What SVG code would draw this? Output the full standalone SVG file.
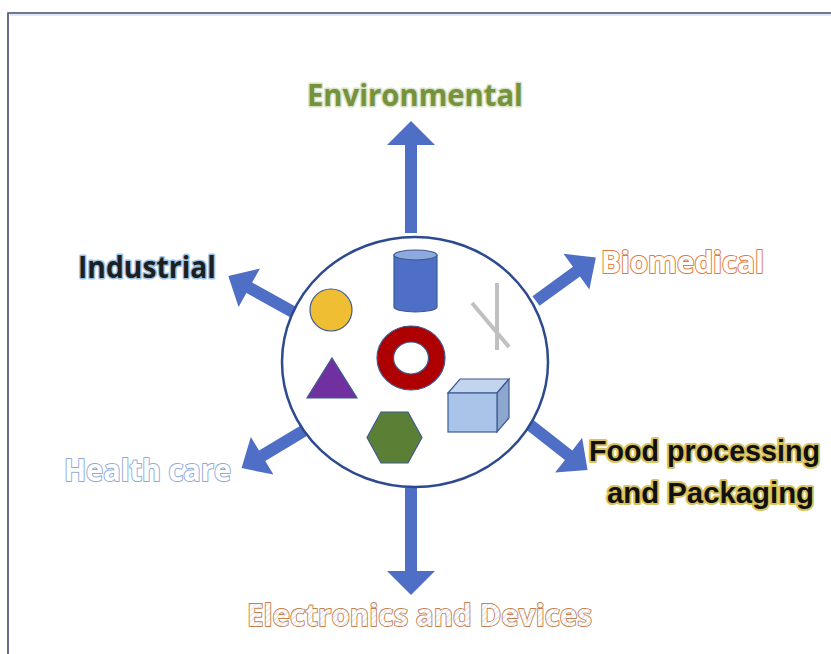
<svg xmlns="http://www.w3.org/2000/svg" width="831" height="654" viewBox="0 0 831 654">
<defs>
<style>
.arrow{fill:#4F6FC6;}
.lbl{font-family:"Open Sans","Liberation Sans",sans-serif;font-weight:bold;font-size:30px;paint-order:stroke;stroke-linejoin:round;}
.food{font-family:"Liberation Sans","Open Sans",sans-serif;font-size:29px;}
.obj{stroke:#3B5A92;stroke-width:1.2;}
</style>
<pattern id="hatch" width="4" height="4" patternUnits="userSpaceOnUse" patternTransform="rotate(45)">
<rect width="4" height="4" fill="#ffffff"/>
<line x1="0" y1="0" x2="0" y2="4" stroke="#c8cbd6" stroke-width="1.2"/>
</pattern>
</defs>
<rect x="0" y="0" width="831" height="654" fill="#ffffff"/>
<path d="M8,654 L8,13 L831,13" fill="none" stroke="#3F4D74" stroke-width="1.6"/>
<line x1="10" y1="15" x2="831" y2="15" stroke="#C7D0E6" stroke-width="1.2"/>

<g id="connectors">
<polygon class="arrow" transform="translate(411,233) rotate(-90)" points="0,-6 88,-6 88,-24 112,0 88,24 88,6 0,6"/>
<polygon class="arrow" transform="translate(411,488) rotate(90)" points="0,-6 83,-6 83,-24 107,0 83,24 83,6 0,6"/>
<polygon class="arrow" transform="translate(293,312) rotate(-151)" points="0,-6 50,-6 50,-22 74,0 50,22 50,6 0,6"/>
<polygon class="arrow" transform="translate(536,301) rotate(-36)" points="0,-6 50,-6 50,-22 74,0 50,22 50,6 0,6"/>
<polygon class="arrow" transform="translate(305,430) rotate(149)" points="0,-6 50,-6 50,-22 74,0 50,22 50,6 0,6"/>
<polygon class="arrow" transform="translate(530,425) rotate(38)" points="0,-6 49,-6 49,-22 73,0 49,22 49,6 0,6"/>
</g>

<g id="hub">
<ellipse cx="415" cy="362" rx="133" ry="125" fill="#ffffff" stroke="#2E4A8E" stroke-width="2.5"/>
</g>

<g id="sphere">
<circle class="obj" cx="331" cy="310" r="21" fill="#F0BE32"/>
</g>
<g id="cylinder">
<path class="obj" d="M394,255 L394,307 A21.5,5 0 0 0 437,307 L437,255 Z" fill="#4F6FC6"/>
<ellipse class="obj" cx="415.5" cy="255" rx="21.5" ry="5" fill="#8FA8DD"/>
</g>
<g id="fibers">
<line x1="497" y1="283" x2="497" y2="350" stroke="#C0C0C0" stroke-width="4"/>
<line x1="472" y1="303" x2="509" y2="347" stroke="#C0C0C0" stroke-width="4"/>
</g>
<g id="ring">
<path class="obj" d="M377,358 A34,32 0 1 0 445,358 A34,32 0 1 0 377,358 Z M393.5,358 A17.5,16 0 1 1 428.5,358 A17.5,16 0 1 1 393.5,358 Z" fill="#AE0000" fill-rule="evenodd"/>
</g>
<g id="triangle">
<polygon class="obj" points="332,358 357,398 307,398" fill="#7030A0"/>
</g>
<g id="cube">
<polygon class="obj" points="448,393 460,379 509,379 497,393" fill="#C2D4EE"/>
<polygon class="obj" points="497,393 509,379 509,418 497,432" fill="#8EA7CF"/>
<rect class="obj" x="448" y="393" width="49" height="39" fill="#A9C4E8"/>
</g>
<g id="hexagon">
<polygon class="obj" points="367,437.5 381,412 408,412 422,437.5 408,463 381,463" fill="#5B8035"/>
</g>

<g id="environmental">
<text class="lbl" x="307" y="106" textLength="216" lengthAdjust="spacingAndGlyphs" fill="#76923C" stroke="#D9E3C8" stroke-width="3">Environmental</text>
</g>
<g id="industrial">
<text class="lbl" x="78" y="278" textLength="138" lengthAdjust="spacingAndGlyphs" fill="#1F1F1F" stroke="#9DC3E6" stroke-width="3">Industrial</text>
</g>
<g id="biomedical">
<text class="lbl" x="601" y="273" textLength="163" lengthAdjust="spacingAndGlyphs" fill="#ffffff" stroke="#E07B39" stroke-width="2">Biomedical</text>
</g>
<g id="healthcare">
<text class="lbl" x="64" y="481" textLength="167" lengthAdjust="spacingAndGlyphs" fill="#ffffff" stroke="#8EAADB" stroke-width="2">Health care</text>
</g>
<g id="food">
<text class="lbl food" x="589" y="461" textLength="231" lengthAdjust="spacingAndGlyphs" fill="#111111" stroke="#D8C35A" stroke-width="4">Food processing</text>
<text class="lbl food" x="607" y="503" textLength="207" lengthAdjust="spacingAndGlyphs" fill="#111111" stroke="#D8C35A" stroke-width="4">and Packaging</text>
</g>
<g id="electronics">
<text class="lbl" x="247" y="626" textLength="345" lengthAdjust="spacingAndGlyphs" fill="url(#hatch)" stroke="#C5804F" stroke-width="1.8">Electronics and Devices</text>
</g>
</svg>
